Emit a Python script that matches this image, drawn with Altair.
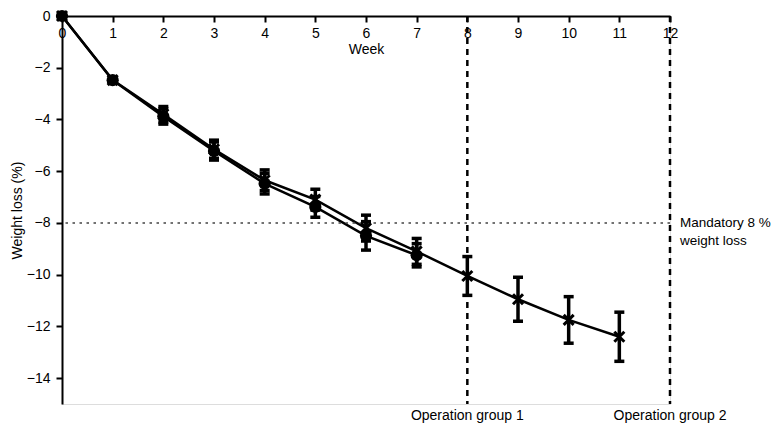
import altair as alt
import pandas as pd

# ---- data ----
weeks_circle = [0, 1, 2, 3, 4, 5, 6, 7]
mean_circle = [0, -2.48, -3.88, -5.22, -6.48, -7.38, -8.5, -9.25]
err_circle = [0, 0, 0.3, 0.35, 0.4, 0.4, 0.55, 0.45]

weeks_cross = [0, 1, 2, 3, 4, 5, 6, 7, 8, 9, 10, 11]
mean_cross = [0, -2.48, -3.8, -5.15, -6.35, -7.1, -8.2, -9.1, -10.05, -10.95, -11.75, -12.4]
err_cross = [0, 0, 0.3, 0.35, 0.4, 0.4, 0.5, 0.5, 0.75, 0.85, 0.9, 0.95]

op_weeks = [8, 12]
op_labels = ["Operation group 1", "Operation group 2"]
threshold = -8
threshold_label = "Mandatory 8 %\nweight loss"

x_ticks = list(range(0, 13))
y_ticks = [0, -2, -4, -6, -8, -10, -12, -14]

W, H = 608, 388
FONT = "Liberation Sans"
FS = 14

def frame(weeks, means, errs):
    return pd.DataFrame({
        "week": weeks,
        "mean": means,
        "lo": [m - e for m, e in zip(means, errs)],
        "hi": [m + e for m, e in zip(means, errs)],
    })

df_a = frame(weeks_circle, mean_circle, err_circle)
df_b = frame(weeks_cross, mean_cross, err_cross)
df_ops = pd.DataFrame({"week": op_weeks, "label": op_labels})

xscale = alt.Scale(domain=[0, 12], nice=False, zero=False)
yscale = alt.Scale(domain=[-15, 0], nice=False, zero=False)

xaxis = alt.Axis(orient="bottom", offset=-H, values=x_ticks, tickSize=6, tickWidth=2,
                 domainWidth=2, domainColor="black", tickColor="black",
                 labelPadding=4, labelFontSize=FS, labelColor="black", labelFont=FONT,
                 title="Week", titleFontSize=FS, titleFontWeight="normal", titleFont=FONT,
                 titleColor="black", titlePadding=2, grid=False, labelFlush=False)
yaxis = alt.Axis(values=y_ticks, tickSize=6, tickWidth=2, domainWidth=2,
                 domainColor="black", tickColor="black", labelPadding=6,
                 labelFontSize=FS, labelColor="black", labelFont=FONT,
                 title="Weight loss (%)", titleFontSize=FS, titleFontWeight="normal",
                 titleFont=FONT, titleColor="black", titlePadding=2, grid=False)

X = alt.X("week:Q", scale=xscale, axis=xaxis)
Y = alt.Y("mean:Q", scale=yscale, axis=yaxis)


def error_layers(df):
    errs = alt.Chart(df).transform_filter("datum.hi > datum.lo")
    bar = errs.mark_rule(color="black", strokeWidth=3.5).encode(
        x="week:Q", y="lo:Q", y2="hi:Q")
    cap_lo = errs.mark_tick(color="black", orient="horizontal", thickness=3.5, size=10,
                            opacity=1).encode(x="week:Q", y="lo:Q")
    cap_hi = errs.mark_tick(color="black", orient="horizontal", thickness=3.5, size=10,
                            opacity=1).encode(x="week:Q", y="hi:Q")
    return [bar, cap_lo, cap_hi]


line_b = alt.Chart(df_b).mark_line(color="black", strokeWidth=2.5).encode(x=X, y=Y)
line_a = alt.Chart(df_a).mark_line(color="black", strokeWidth=2.5).encode(x=X, y=Y)
pts_b = alt.Chart(df_b).mark_point(shape="M-1,-1L1,1M-1,1L1,-1", filled=False,
                                   strokeWidth=3, size=100, color="black",
                                   opacity=1).encode(x="week:Q", y="mean:Q")
pts_a = alt.Chart(df_a).mark_circle(size=150, color="black", opacity=1).encode(
    x="week:Q", y="mean:Q")

vlines = alt.Chart(df_ops).mark_rule(color="black", strokeWidth=2.5,
                                     strokeDash=[6, 5]).encode(x="week:Q")
hline = alt.Chart(pd.DataFrame({"y": [threshold]})).mark_rule(
    color="#444444", strokeWidth=1.5, strokeDash=[2.5, 4.5]).encode(y="y:Q")
op_text = alt.Chart(df_ops).mark_text(font=FONT, fontSize=FS, color="black",
                                      baseline="top", align="center", dy=5).encode(
    x="week:Q", y=alt.datum(-15), text="label:N")
th_text = alt.Chart(pd.DataFrame({"x": [12], "y": [threshold], "t": [threshold_label]})).mark_text(
    font=FONT, fontSize=13.5, color="black", align="left", baseline="middle",
    lineBreak="\n", lineHeight=18, dx=10).encode(x="x:Q", y="y:Q", text="t:N")

chart = alt.layer(
    line_b, line_a, hline, vlines,
    *error_layers(df_b), pts_b, *error_layers(df_a), pts_a, op_text, th_text
).properties(
    width=W, height=H,
    autosize=alt.AutoSizeParams(type="none"),
    padding={"left": 54, "top": 8, "right": 103, "bottom": 24},
).configure_view(stroke=None).configure(background="white")

chart.save("out.html", embed_options={"renderer": "svg", "actions": False})
